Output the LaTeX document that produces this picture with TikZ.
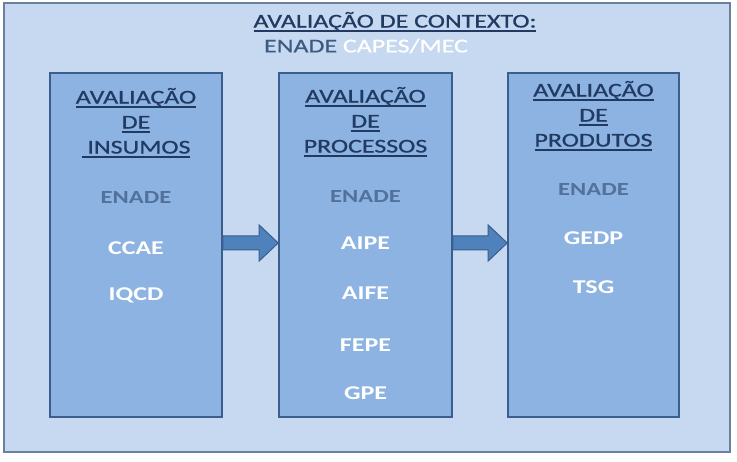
\documentclass[tikz,border=0pt]{standalone}
\usepackage{fontspec}
\setmainfont[FakeStretch=1.33]{Carlito}
\newfontfamily\headfont[FakeStretch=1.33, FakeBold=0.8]{Carlito}
\usepackage{tikz}
\usetikzlibrary{positioning, calc}
\definecolor{framefill}{HTML}{C6D9F0}
\definecolor{frameline}{HTML}{6B809F}
\definecolor{boxfill}{HTML}{8DB3E2}
\definecolor{boxline}{HTML}{3B5E8C}
\definecolor{navytext}{HTML}{203A62}
\definecolor{enadegray}{HTML}{52719B}
\definecolor{enadehead}{HTML}{3D5A82}
\definecolor{arrowfill}{HTML}{4F81BD}
\newcommand{\undr}[1]{\setbox0\hbox{#1}\rlap{\rule[-4.5pt]{\wd0}{1.7pt}}\box0}
\tikzset{
  outerbox/.style={rectangle, draw=frameline, line width=1.6pt, fill=framefill, minimum width=726pt, minimum height=449pt, inner sep=0pt},
  stagebox/.style={rectangle, draw=boxline, line width=1.6pt, fill=boxfill, minimum width=172pt, minimum height=344pt, inner sep=0pt},
  headtitle/.style={text=navytext, font=\fontsize{19.5}{24}\selectfont\headfont, inner sep=0pt},
  stagetitle/.style={align=center, text=navytext, font=\fontsize{19.5}{25}\selectfont\headfont, inner sep=0pt},
  enadelabel/.style={text=enadegray, font=\fontsize{18.5}{22}\selectfont\bfseries, inner sep=0pt},
  indicator/.style={text=white, font=\fontsize{19.5}{22}\selectfont\bfseries, inner sep=0pt},
  flowarrow/.style={fill=arrowfill, draw=boxline, line width=1pt, line join=miter}
}
\begin{document}
\begin{tikzpicture}[x=1pt, y=-1pt]
    \useasboundingbox (0,0) rectangle (737,462);

    % Context frame
    \node[outerbox] (contexto) at (367,227.5) {};
    \node[headtitle] (ctxtitle) at (395,22) {\undr{AVALIAÇÃO DE CONTEXTO:}};
    \node[headtitle, text=enadehead] (ctxsub) at (366,46) {ENADE \textcolor{white}{CAPES/MEC}};

    % Stage boxes
    \node[stagebox] (insumos) at (136,245) {};
    \node[stagebox, minimum width=173pt] (processos) at (365.5,245) {};
    \node[stagebox, minimum width=171pt] (produtos) at (593.5,245) {};

    % Titles
    \node[stagetitle] (insumos-t) at (insumos.north |- 0,123) {\undr{AVALIAÇÃO}\\\undr{DE}\\\undr{\ INSUMOS}};
    \node[stagetitle] (processos-t) at (processos.north |- 0,122) {\undr{AVALIAÇÃO}\\\undr{DE}\\\undr{PROCESSOS}};
    \node[stagetitle] (produtos-t) at (produtos.north |- 0,116) {\undr{AVALIAÇÃO}\\\undr{DE}\\\undr{PRODUTOS}};

    % ENADE in each stage
    \node[enadelabel] (insumos-e) at (insumos.north |- 0,198) {ENADE};
    \node[enadelabel] (processos-e) at (processos.north |- 0,197) {ENADE};
    \node[enadelabel] (produtos-e) at (produtos.north |- 0,190) {ENADE};

    % Indicators
    \foreach \lbl/\ypos [count=\i] in {CCAE/248, IQCD/295}
        \node[indicator] (insumos-\i) at (insumos.north |- 0,\ypos) {\lbl};
    \foreach \lbl/\ypos [count=\i] in {AIPE/243, AIFE/293, FEPE/345, GPE/393}
        \node[indicator] (processos-\i) at (processos.north |- 0,\ypos) {\lbl};
    \foreach \lbl/\ypos [count=\i] in {GEDP/238, TSG/287}
        \node[indicator] (produtos-\i) at (produtos.north |- 0,\ypos) {\lbl};

    % Block arrows
    \filldraw[flowarrow] ($(insumos.east)+(0,-9)$) -- ($(processos.west)+(-19,-9)$) -- ($(processos.west)+(-19,-20)$) -- ($(processos.west)+(0,-2)$) -- ($(processos.west)+(-19,16)$) -- ($(processos.west)+(-19,5)$) -- ($(insumos.east)+(0,5)$) -- cycle;
    \filldraw[flowarrow] ($(processos.east)+(0,-9)$) -- ($(produtos.west)+(-19,-9)$) -- ($(produtos.west)+(-19,-20)$) -- ($(produtos.west)+(0,-2)$) -- ($(produtos.west)+(-19,16)$) -- ($(produtos.west)+(-19,5)$) -- ($(processos.east)+(0,5)$) -- cycle;
\end{tikzpicture}
\end{document}
